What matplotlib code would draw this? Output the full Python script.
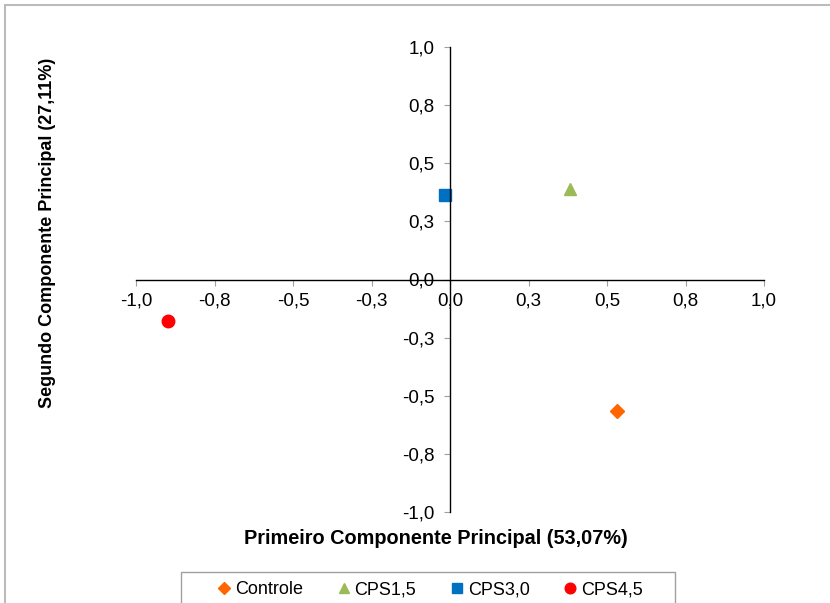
import numpy as np
import matplotlib.pyplot as plt
from matplotlib.patches import Rectangle
from matplotlib.lines import Line2D

plt.rcParams['font.family'] = ['Liberation Sans', 'DejaVu Sans']

names = ['Controle', 'CPS1,5', 'CPS3,0', 'CPS4,5']
pc1 = [0.532, 0.382, -0.016, -0.898]
pc2 = [-0.566, 0.389, 0.363, -0.178]
markers = ['D', '^', 's', 'o']
colors = ['#FF6600', '#9BBB59', '#0070C0', '#FF0000']
sizes = [7, 9, 9, 9]
ticks = [-1.0, -0.75, -0.5, -0.25, 0.0, 0.25, 0.5, 0.75, 1.0]

fig = plt.figure(figsize=(8.3, 6.03), dpi=100)
# outer chart border (cut off at right/bottom like the reference)
fig.patches.append(Rectangle((5/830, -0.1), 1.1, (603-5)/603 + 0.1, transform=fig.transFigure,
                             fill=False, edgecolor='#BBBBBB', lw=1.5))
ax = fig.add_axes([136/830, 1-512/603, (764-136)/830, (512-47)/603])

for n, x, y, m, c, s in zip(names, pc1, pc2, markers, colors, sizes):
    ax.plot([x], [y], linestyle='none', marker=m, color=c, markersize=s, label=n, clip_on=False)

ax.set_xlim(-1, 1)
ax.set_ylim(-1, 1)
for side in ['top', 'right']:
    ax.spines[side].set_visible(False)
ax.spines['left'].set_position(('data', 0))
ax.spines['bottom'].set_position(('data', 0))
ax.spines['left'].set_linewidth(1.0)
ax.spines['bottom'].set_linewidth(1.0)

fmt = lambda v: ('%.1f' % (np.sign(v) * np.floor(abs(v) * 10 + 0.5) / 10)).replace('.', ',').replace('-0,0', '0,0')
ax.set_xticks(ticks)
ax.set_yticks(ticks)
ax.set_xticklabels([fmt(t) for t in ticks])
ax.set_yticklabels([fmt(t) for t in ticks])
ax.tick_params(axis='both', direction='out', length=4, color='#A0A0A0', width=0.8,
               labelsize=13.5, labelcolor='black')
ax.tick_params(axis='x', pad=5)
ax.tick_params(axis='y', pad=7)

fig.text(436/830, 1-538/603, 'Primeiro Componente Principal (53,07%)', ha='center', va='center',
         fontsize=14.3, fontweight='bold')
fig.text(47/830, 1-233/603, 'Segundo Componente Principal (27,11%)', ha='center', va='center',
         fontsize=13, fontweight='bold', rotation=90)

# legend box drawn separately
fig.patches.append(Rectangle((181/830, -0.02), (675-181)/830, (603-572)/603 + 0.02,
                             transform=fig.transFigure, fill=False, edgecolor='#A0A0A0', lw=1.0))
handles = [Line2D([], [], linestyle='none', marker=m, color=c, markersize=s*0.85)
           for m, c, s in zip(markers, colors, sizes)]
leg = fig.legend(handles, names, loc='center', bbox_to_anchor=(428/830, 1-590/603), ncol=4,
                 frameon=False, fontsize=13,
                 handletextpad=0.0, columnspacing=1.65, handlelength=1.2)

fig.savefig('out.png', dpi=100)
